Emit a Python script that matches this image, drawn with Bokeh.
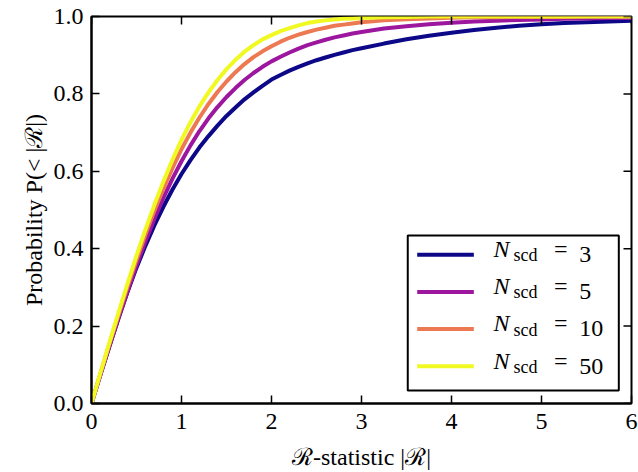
from bokeh.plotting import figure
from bokeh.models import (Range1d, FixedTicker, PrintfTickFormatter,
                          BoxAnnotation, Label, ColumnDataSource)
from bokeh.embed import file_html
from bokeh.resources import INLINE

# ---- data ----
r_vals = [0.0, 0.1, 0.2, 0.3, 0.4, 0.5, 0.6, 0.7, 0.8, 0.9,
          1.0, 1.1, 1.2, 1.3, 1.4, 1.5, 1.6, 1.7, 1.8, 1.9,
          2.0, 2.1, 2.2, 2.3, 2.4, 2.5, 2.6, 2.7, 2.8, 2.9,
          3.0, 3.25, 3.5, 3.75, 4.0, 4.25, 4.5, 4.75, 5.0, 5.25, 5.5, 5.75, 6.0]
p_n3 = [0.0, 0.075, 0.148, 0.220, 0.288, 0.351, 0.408, 0.461, 0.509, 0.553,
        0.593, 0.629, 0.662, 0.691, 0.718, 0.743, 0.765, 0.786, 0.804, 0.821,
        0.837, 0.849, 0.860, 0.870, 0.879, 0.887, 0.894, 0.901, 0.907, 0.913,
        0.918, 0.930, 0.941, 0.950, 0.958, 0.965, 0.971, 0.976, 0.980, 0.983,
        0.985, 0.987, 0.989]
p_n5 = [0.0, 0.075, 0.149, 0.221, 0.290, 0.357, 0.419, 0.478, 0.532, 0.581,
        0.626, 0.667, 0.704, 0.737, 0.766, 0.792, 0.815, 0.836, 0.854, 0.870,
        0.884, 0.896, 0.907, 0.917, 0.926, 0.933, 0.940, 0.946, 0.951, 0.956,
        0.960, 0.969, 0.975, 0.980, 0.984, 0.987, 0.989, 0.991, 0.992, 0.994,
        0.995, 0.996, 0.996]
p_n10 = [0.0, 0.078, 0.155, 0.229, 0.302, 0.371, 0.437, 0.499, 0.556, 0.608,
         0.657, 0.700, 0.739, 0.774, 0.805, 0.832, 0.856, 0.877, 0.895, 0.910,
         0.923, 0.935, 0.945, 0.953, 0.960, 0.966, 0.971, 0.976, 0.979, 0.982,
         0.985, 0.990, 0.993, 0.995, 0.997, 0.998, 0.998, 0.999, 0.999, 0.999,
         1.0, 1.0, 1.0]
p_n50 = [0.0, 0.080, 0.158, 0.235, 0.310, 0.382, 0.450, 0.514, 0.574, 0.630,
         0.681, 0.727, 0.768, 0.804, 0.836, 0.864, 0.888, 0.909, 0.926, 0.941,
         0.952, 0.962, 0.970, 0.977, 0.983, 0.987, 0.990, 0.992, 0.994, 0.995,
         0.996, 0.998, 0.999, 1.0, 1.0, 1.0, 1.0, 1.0, 1.0, 1.0,
         1.0, 1.0, 1.0]
n_scd = ["3", "5", "10", "50"]
colors = ["#0d0887", "#9c179e", "#ed7953", "#f0f921"]
x_ticks = [0, 1, 2, 3, 4, 5, 6]
y_ticks = [0.0, 0.2, 0.4, 0.6, 0.8, 1.0]

FONT = "Liberation Serif"
FS = "24px"
TXT = "black"

p = figure(width=638, height=472, output_backend="svg", toolbar_location=None,
           x_range=Range1d(0, 6), y_range=Range1d(0, 1),
           min_border_left=91, min_border_right=7, min_border_top=16,
           min_border_bottom=68, x_axis_label="ℛ-statistic |ℛ|",
           y_axis_label="Probability P(< |ℛ|)")
p.xgrid.visible = False
p.ygrid.visible = False
p.outline_line_color = "black"
p.outline_line_width = 2

series = [p_n3, p_n5, p_n10, p_n50]
for vals, c in zip(series, colors):
    p.line(r_vals, vals, line_color=c, line_width=4)


def style_axis(ax, ticks, fmt, tick_standoff, label_standoff):
    ax.ticker = FixedTicker(ticks=ticks)
    ax.formatter = PrintfTickFormatter(format=fmt)
    ax.minor_tick_line_color = None
    ax.major_tick_in = 8
    ax.major_tick_out = 0
    ax.major_tick_line_width = 1.5
    ax.major_tick_line_color = "black"
    ax.axis_line_width = 2
    ax.axis_line_color = "black"
    ax.major_label_text_font = FONT
    ax.major_label_text_color = TXT
    ax.major_label_text_font_size = FS
    ax.major_label_standoff = tick_standoff
    ax.axis_label_text_font = FONT
    ax.axis_label_text_font_size = FS
    ax.axis_label_text_font_style = "normal"
    ax.axis_label_text_color = TXT
    ax.axis_label_standoff = label_standoff


style_axis(p.xaxis[0], x_ticks, "%d", 10, 12)
style_axis(p.yaxis[0], y_ticks, "%.1f", 8, 4)

# inward ticks on the top and right edges of the frame
p.ray(x=x_ticks, y=[1.0] * len(x_ticks), length=8, length_units="screen",
      angle=-90, angle_units="deg", line_color="black", line_width=1.5)
p.ray(x=[6.0] * len(y_ticks), y=y_ticks, length=8, length_units="screen",
      angle=180, angle_units="deg", line_color="black", line_width=1.5)

# ---- legend (drawn by hand to allow the subscript) ----
box = BoxAnnotation(left=3.514, right=5.859, bottom=0.0335, top=0.4343,
                    fill_color="white", fill_alpha=1.0,
                    line_color="black", line_width=2, line_alpha=1.0)
p.add_layout(box)

row_top, row_step = 0.3845, 0.0961
rows_y = [row_top - i * row_step for i in range(len(n_scd))]
leg_src = ColumnDataSource(dict(x0=[3.619] * len(n_scd), x1=[4.248] * len(n_scd),
                                y=rows_y, color=colors))
p.segment(x0="x0", y0="y", x1="x1", y1="y", color="color", line_width=4,
          source=leg_src, level="overlay")

for yv, n in zip(rows_y, n_scd):
    p.add_layout(Label(x=4.467, y=yv - 0.019, text="N", text_font=FONT,
                       text_font_size=FS, text_font_style="italic",
                       text_color=TXT))
    p.add_layout(Label(x=4.69, y=yv - 0.027, text="scd", text_font=FONT,
                       text_font_size="18px", text_color=TXT))
    p.add_layout(Label(x=5.14, y=yv - 0.019, text="=", text_font=FONT,
                       text_font_size=FS, text_color=TXT))
    p.add_layout(Label(x=5.42, y=yv - 0.019, text=n, text_font=FONT,
                       text_font_size=FS, text_color=TXT))

open("out.html", "w").write(file_html(p, INLINE))
